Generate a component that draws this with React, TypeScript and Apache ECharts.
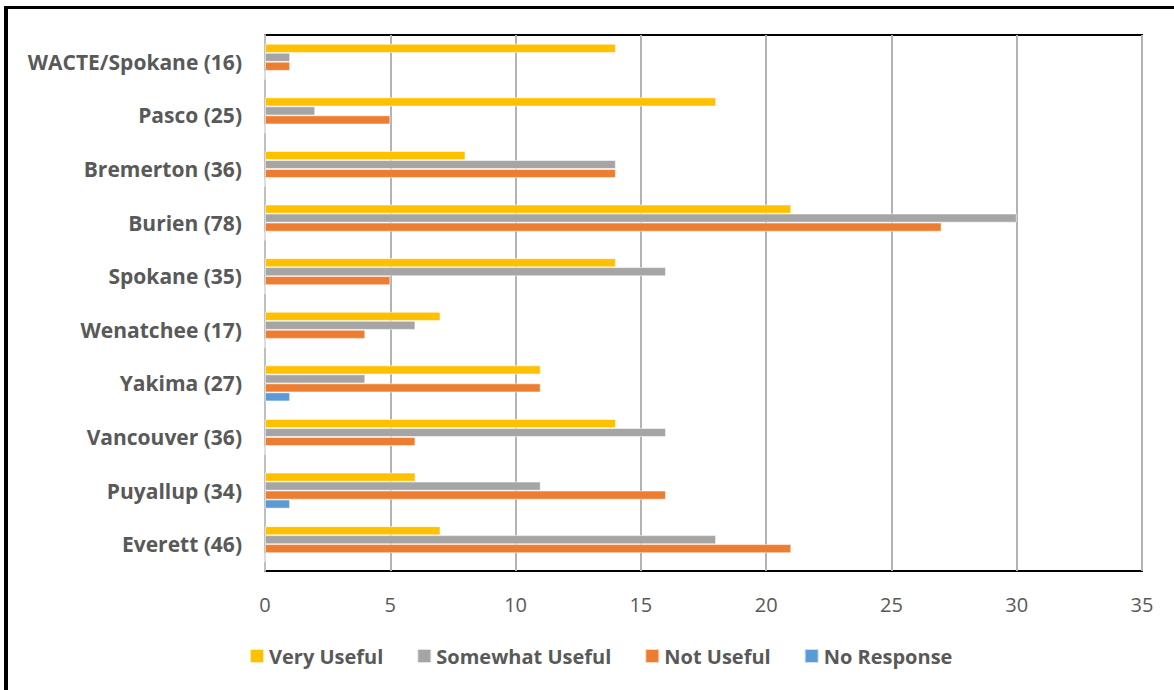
import React, { useEffect, useRef } from "react";
import * as echarts from "echarts";

// Sites, listed top to bottom
const sites = [
  "WACTE/Spokane (16)",
  "Pasco (25)",
  "Bremerton (36)",
  "Burien (78)",
  "Spokane (35)",
  "Wenatchee (17)",
  "Yakima (27)",
  "Vancouver (36)",
  "Puyallup (34)",
  "Everett (46)",
];

const veryUseful = [14, 18, 8, 21, 14, 7, 11, 14, 6, 7];
const somewhatUseful = [1, 2, 14, 30, 16, 6, 4, 16, 11, 18];
const notUseful = [1, 5, 14, 27, 5, 4, 11, 6, 16, 21];
const noResponse = [0, 0, 0, 0, 0, 0, 1, 0, 1, 0];

const seriesNames = ["Very Useful", "Somewhat Useful", "Not Useful", "No Response"];
const seriesColors = ["#FFC000", "#A5A5A5", "#ED7D31", "#5B9BD5"];

const FONT = "'Open Sans', 'Noto Sans', sans-serif";
const TEXT = "#595959";

export default function App() {
  const ref = useRef<HTMLDivElement>(null);

  useEffect(() => {
    if (!ref.current) return;
    const chart = echarts.init(ref.current, null, { renderer: "svg" });
    const values = [veryUseful, somewhatUseful, notUseful, noResponse];

    chart.setOption({
      animation: false,
      backgroundColor: "#fff",
      grid: {
        left: 265,
        right: 32,
        top: 35,
        bottom: 119,
        show: true,
        borderColor: "#000",
        borderWidth: 2,
        backgroundColor: "transparent",
      },
      legend: {
        left: 249,
        top: 645,
        padding: 0,
        itemWidth: 14,
        itemHeight: 14,
        itemGap: 33,
        icon: "rect",
        data: seriesNames,
        textStyle: {
          color: TEXT,
          fontFamily: FONT,
          fontWeight: "bold",
          fontSize: 20,
          lineHeight: 22,
        },
      },
      xAxis: {
        type: "value",
        min: 0,
        max: 35,
        interval: 5,
        axisLine: { show: false },
        axisTick: { show: false },
        splitLine: { show: true, lineStyle: { color: "#B3B3B3", width: 2 } },
        axisLabel: {
          color: TEXT,
          fontFamily: FONT,
          fontSize: 20,
          margin: 23,
        },
      },
      yAxis: {
        type: "category",
        data: sites,
        inverse: true,
        axisLine: { show: true, lineStyle: { color: "#BFBFBF", width: 2 } },
        axisTick: { show: false },
        axisLabel: {
          color: TEXT,
          fontFamily: FONT,
          fontWeight: "bold",
          fontSize: 21,
          margin: 23,
        },
      },
      series: seriesNames.map((name, i) => ({
        name,
        type: "bar",
        data: values[i],
        barGap: "0%",
        barCategoryGap: "33%",
        itemStyle: {
          color: seriesColors[i],
          borderColor: "rgba(255,255,255,0.7)",
          borderWidth: 0.8,
        },
      })),
    });

    return () => chart.dispose();
  }, []);

  return (
    <div style={{ position: "fixed", left: 0, top: 0, width: 1174, height: 690, background: "#fff" }}>
      <div ref={ref} style={{ position: "absolute", left: 0, top: 0, width: 1174, height: 690 }} />
      <div
        style={{
          position: "absolute",
          left: 4,
          top: 6,
          width: 1200,
          height: 700,
          borderLeft: "4px solid #000",
          borderTop: "3px solid #000",
          pointerEvents: "none",
        }}
      />
    </div>
  );
}
